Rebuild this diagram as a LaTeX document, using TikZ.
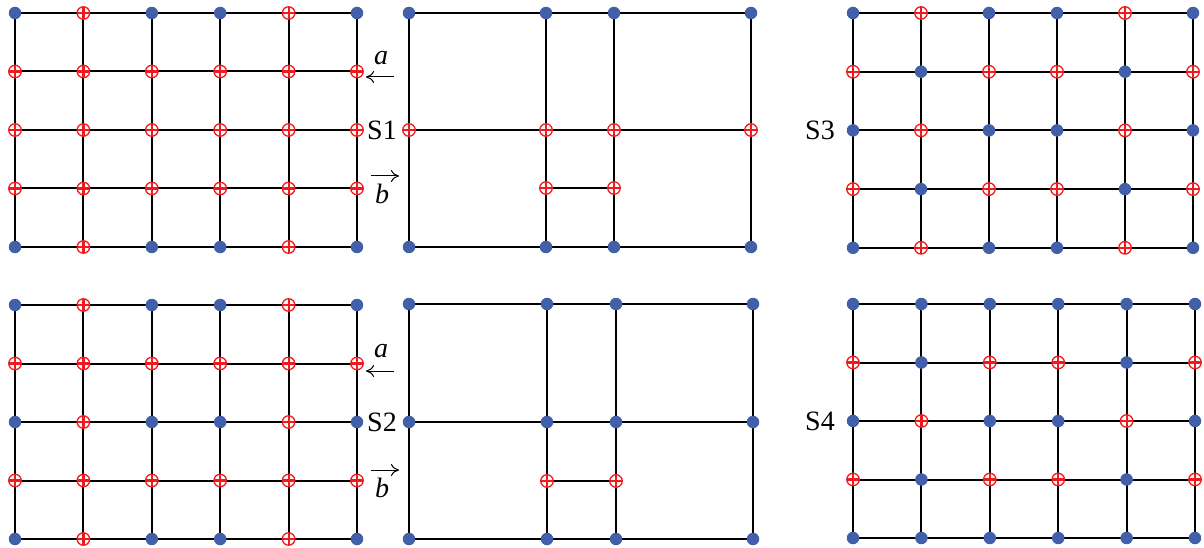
\documentclass[tikz,border=0pt]{standalone}
\usepackage{fontspec}
\setmainfont{Liberation Serif}
\usetikzlibrary{arrows.meta}
\definecolor{dotblue}{RGB}{66,96,170}
\definecolor{plusred}{RGB}{240,25,30}
\tikzset{
  gridline/.style={line width=2pt, black},
  bdot/.style={circle, fill=dotblue, inner sep=0pt, minimum size=12.5pt},
  rplus/.style={circle, draw=plusred, line width=1.3pt, fill=white, inner sep=0pt, minimum size=12.5pt,
    path picture={\draw[plusred, line width=2.2pt]
      (path picture bounding box.north) -- (path picture bounding box.south)
      (path picture bounding box.west) -- (path picture bounding box.east);}},
  lbl/.style={font=\fontsize{28}{30}\selectfont, inner sep=0pt},
  dirarrow/.style={line width=1pt, -{To[length=8pt,width=12pt]}},
}
% \fullgrid{prefix}{x0}{dx}{y0}{dy}{marker rows}
\newcommand{\fullgrid}[6]{%
  \foreach \i in {0,...,5} {
    \foreach \j in {0,...,4} {
      \coordinate (#1-\i-\j) at ({#2+\i*#3},{#4+\j*#5});
    }
  }
  \foreach \j in {0,...,4} \draw[gridline] (#1-0-\j) -- (#1-5-\j);
  \foreach \i in {0,...,5} \draw[gridline] (#1-\i-0) -- (#1-\i-4);
  \foreach \row [count=\j from 0] in {#6} {
    \foreach \m [count=\i from 0] in \row {
      \node[\m] (#1m-\i-\j) at (#1-\i-\j) {};
    }
  }
}
\newcommand{\coarsegrid}[9]{%
  \coordinate (#1-0-0) at (#2,#6); \coordinate (#1-1-0) at (#3,#6); \coordinate (#1-2-0) at (#4,#6); \coordinate (#1-3-0) at (#5,#6);
  \coordinate (#1-0-1) at (#2,#7); \coordinate (#1-1-1) at (#3,#7); \coordinate (#1-2-1) at (#4,#7); \coordinate (#1-3-1) at (#5,#7);
  \coordinate (#1-1-2) at (#3,#8); \coordinate (#1-2-2) at (#4,#8);
  \coordinate (#1-0-3) at (#2,#9); \coordinate (#1-1-3) at (#3,#9); \coordinate (#1-2-3) at (#4,#9); \coordinate (#1-3-3) at (#5,#9);
  \draw[gridline] (#1-0-0) -- (#1-3-0) -- (#1-3-3) -- (#1-0-3) -- cycle;
  \draw[gridline] (#1-0-1) -- (#1-3-1);
  \draw[gridline] (#1-1-0) -- (#1-1-3);
  \draw[gridline] (#1-2-0) -- (#1-2-3);
  \draw[gridline] (#1-1-2) -- (#1-2-2);
}
\begin{document}
\begin{tikzpicture}[x=1pt,y=-1pt]
\useasboundingbox (0,0) rectangle (1204,548);

% ---- top-left full grid (S1)
\fullgrid{A}{15}{68.4}{13}{58.5}{{bdot,rplus,bdot,bdot,rplus,bdot},{rplus,rplus,rplus,rplus,rplus,rplus},{rplus,rplus,rplus,rplus,rplus,rplus},{rplus,rplus,rplus,rplus,rplus,rplus},{bdot,rplus,bdot,bdot,rplus,bdot}}

% ---- bottom-left full grid (S2)
\fullgrid{B}{15}{68.4}{305}{58.5}{{bdot,rplus,bdot,bdot,rplus,bdot},{rplus,rplus,rplus,rplus,rplus,rplus},{bdot,rplus,bdot,bdot,rplus,bdot},{rplus,rplus,rplus,rplus,rplus,rplus},{bdot,rplus,bdot,bdot,rplus,bdot}}

% ---- top-right full grid (S3)
\fullgrid{C}{853}{68}{13}{58.7}{{bdot,rplus,bdot,bdot,rplus,bdot},{rplus,bdot,rplus,rplus,bdot,rplus},{bdot,rplus,bdot,bdot,rplus,bdot},{rplus,bdot,rplus,rplus,bdot,rplus},{bdot,rplus,bdot,bdot,rplus,bdot}}

% ---- bottom-right full grid (S4)
\fullgrid{D}{853}{68.4}{304}{58.5}{{bdot,bdot,bdot,bdot,bdot,bdot},{rplus,bdot,rplus,rplus,bdot,rplus},{bdot,rplus,bdot,bdot,rplus,bdot},{rplus,bdot,rplus,rplus,bdot,rplus},{bdot,bdot,bdot,bdot,bdot,bdot}}

% ---- top middle coarse grid
\coarsegrid{E}{409}{546}{614}{751}{13}{130}{188}{247}
\foreach \p in {E-0-0,E-1-0,E-2-0,E-3-0,E-0-3,E-1-3,E-2-3,E-3-3} \node[bdot] (m\p) at (\p) {};
\foreach \p in {E-0-1,E-1-1,E-2-1,E-3-1,E-1-2,E-2-2} \node[rplus] (m\p) at (\p) {};

% ---- bottom middle coarse grid
\coarsegrid{F}{409}{547}{616}{753}{304}{422}{481}{539}
\foreach \p in {F-0-0,F-1-0,F-2-0,F-3-0,F-0-1,F-1-1,F-2-1,F-3-1,F-0-3,F-1-3,F-2-3,F-3-3} \node[bdot] (m\p) at (\p) {};
\foreach \p in {F-1-2,F-2-2} \node[rplus] (m\p) at (\p) {};

% ---- labels S1 block
\node[lbl] (la1) at (381,58) {\textit{a}};
\coordinate (la1s) at (394,77); \coordinate (la1e) at (366,77);
\draw[dirarrow] (la1s) -- (la1e);
\node[lbl] (s1) at (382,130) {S1};
\coordinate (lb1s) at (371,176); \coordinate (lb1e) at (399,176);
\draw[dirarrow] (lb1s) -- (lb1e);
\node[lbl] (lb1) at (382,194) {\textit{b}};

% ---- labels S2 block
\node[lbl] (la2) at (381,351) {\textit{a}};
\coordinate (la2s) at (394,371); \coordinate (la2e) at (366,371);
\draw[dirarrow] (la2s) -- (la2e);
\node[lbl] (s2) at (382,422) {S2};
\coordinate (lb2s) at (371,470); \coordinate (lb2e) at (399,470);
\draw[dirarrow] (lb2s) -- (lb2e);
\node[lbl] (lb2) at (382,488) {\textit{b}};

% ---- S3, S4
\node[lbl] (s3) at (820,130) {S3};
\node[lbl] (s4) at (820,421) {S4};
\end{tikzpicture}
\end{document}
